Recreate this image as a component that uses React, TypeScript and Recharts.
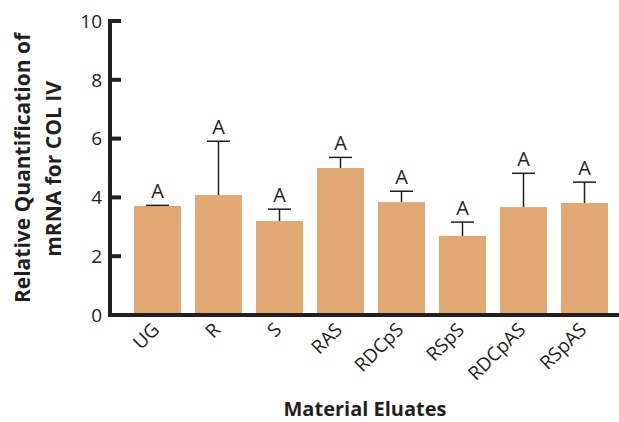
import { BarChart, Bar, XAxis, YAxis } from 'recharts';

const categories = ['UG', 'R', 'S', 'RAS', 'RDCpS', 'RSpS', 'RDCpAS', 'RSpAS'];
const means = [3.71, 4.08, 3.2, 5.0, 3.84, 2.69, 3.67, 3.81];
const errors = [0.02, 1.83, 0.4, 0.36, 0.37, 0.47, 1.15, 0.71];
const letters = ['A', 'A', 'A', 'A', 'A', 'A', 'A', 'A'];
const yTicks = [0, 2, 4, 6, 8, 10];

const data = categories.map((name, i) => ({
  name,
  mean: means[i],
  err: errors[i],
  letter: letters[i],
}));

const INK = '#231f20';
const FONT = '"Open Sans", sans-serif';

function BarWithError(props: any) {
  const { x, y, width, height, payload, fill } = props;
  // pixels per unit taken from the bar the library drew
  const pxPerUnit = height / payload.mean;
  const topY = y - payload.err * pxPerUnit;
  const cx = x + width / 2;
  return (
    <g>
      <rect x={x} y={y} width={width} height={height} fill={fill} />
      <line x1={cx} y1={y} x2={cx} y2={topY} stroke={INK} strokeWidth={1.5} />
      <line x1={cx - 11.5} y1={topY} x2={cx + 11.5} y2={topY} stroke={INK} strokeWidth={1.5} />
      <text x={cx} y={topY - 7} textAnchor="middle" fontSize={20} fill={INK} fontFamily={FONT}>
        {payload.letter}
      </text>
    </g>
  );
}

function XTick(props: any) {
  const { x, y, payload } = props;
  const px = x + 3;
  const py = y + 8;
  return (
    <text
      x={px}
      y={py}
      transform={`rotate(-45 ${px} ${py})`}
      textAnchor="end"
      fontSize={19}
      fill={INK}
      fontFamily={FONT}
    >
      {payload.value}
    </text>
  );
}

export default function App() {
  return (
    <div style={{ position: 'absolute', left: 0, top: 0, background: '#fff' }}>
      <BarChart
        width={619}
        height={422}
        data={data}
        margin={{ top: 21, right: 0, bottom: 0, left: 0 }}
      >
        <XAxis
          dataKey="name"
          height={107}
          padding={{ left: 17, right: 4 }}
          axisLine={{ stroke: INK, strokeWidth: 4, strokeLinecap: 'square' }}
          tickLine={false}
          tick={<XTick />}
          interval={0}
          label={{
            content: () => (
              <text x={365} y={416} textAnchor="middle" fontSize={20} fontWeight="bold" fill={INK} fontFamily={FONT}>
                Material Eluates
              </text>
            ),
          }}
        />
        <YAxis
          width={110}
          domain={[0, 10]}
          ticks={yTicks}
          interval={0}
          tickSize={-11}
          tickMargin={19}
          axisLine={{ stroke: INK, strokeWidth: 4, strokeLinecap: 'square' }}
          tickLine={{ stroke: INK, strokeWidth: 4 }}
          tick={{ fill: INK, fontSize: 19, fontFamily: FONT }}
          label={{
            content: () => (
              <g fontSize={21} fontWeight="bold" fill={INK} fontFamily={FONT} textAnchor="middle">
                <text x={30} y={168} transform="rotate(-90 30 168)">Relative Quantification of</text>
                <text x={61} y={169} transform="rotate(-90 61 169)">mRNA for COL IV</text>
              </g>
            ),
          }}
        />
        <Bar
          dataKey="mean"
          fill="#e2a975"
          barSize={47}
          shape={<BarWithError />}
          isAnimationActive={false}
        />
      </BarChart>
    </div>
  );
}
